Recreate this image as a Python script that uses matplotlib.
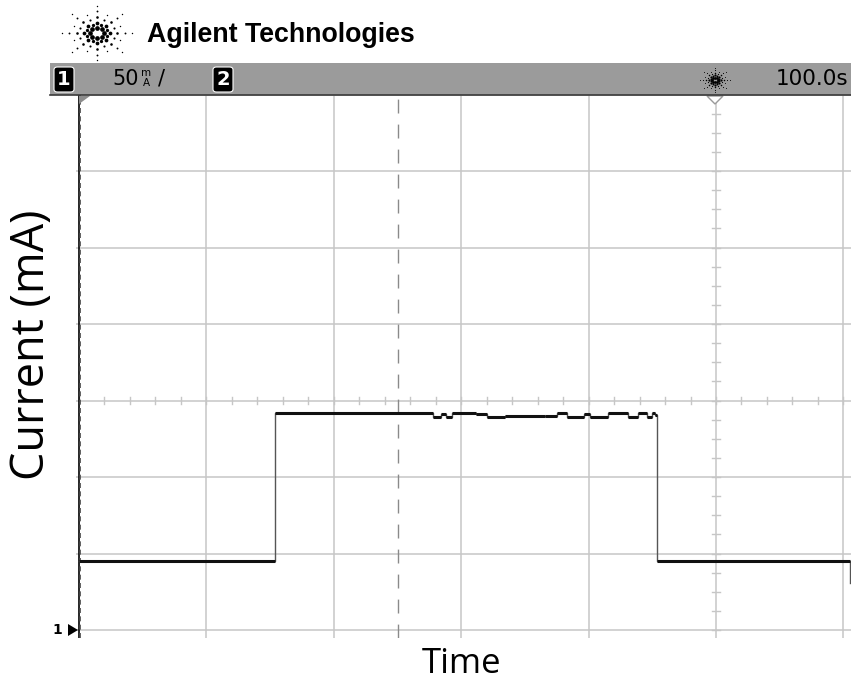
import numpy as np
import matplotlib
matplotlib.use("Agg")
import matplotlib.pyplot as plt
from matplotlib.patches import Rectangle, FancyBboxPatch, Polygon

# ---------------- data (time in s, current in mA; 100 s/div, 50 mA/div) -------------
times = [0, 154, 278, 284, 288, 293, 312, 320, 334, 366, 375, 383, 396, 401, 415,
         431, 439, 446, 450, 452, 454, 605]
currents = [45, 142, 139.5, 141, 139.5, 142, 141, 139.5, 140, 140, 142, 139.5, 141, 139.5,
            142, 139.5, 142, 139.5, 142, 140.5, 45, 31]
x_grid = [0, 100, 200, 300, 400, 500, 600]
y_grid = [0, 50, 100, 150, 200, 250, 300, 350]
cursor_t = 250
center_t = 500
center_i = 150

W, H = 851, 692
fig = plt.figure(figsize=(W / 100, H / 100), dpi=100)
fig.patch.set_facecolor("white")

def fx(x):
    return x / W

def fy(y):
    return 1 - y / H

# axes geometry (pixels)
X0, Y0 = 79, 630           # t=0, I=0
XP, YP = 1.274, 1.53       # px per s, px per mA
L, R, T, B = 76, 851, 95, 638
ax = fig.add_axes([fx(L), fy(B), (R - L) / W, (B - T) / H])
ax.set_xlim((L - X0) / XP, (R - X0) / XP)
ax.set_ylim((Y0 - B) / YP, (Y0 - T) / YP)
ax.set_facecolor("white")
for s in ax.spines.values():
    s.set_visible(False)
ax.set_xticks([])
ax.set_yticks([])

gcol = "#c6c6c6"
for xv in x_grid[1:]:
    ax.axvline(xv, color=gcol, lw=1.1, zorder=1)
for yv in y_grid:
    ax.axhline(yv, color=gcol, lw=1.1, zorder=1)

# minor ticks on centre lines
for t in np.arange(0, 620, 20):
    ax.plot([t, t], [center_i - 2.2, center_i + 2.2], color=gcol, lw=1.0, zorder=1)
for c in np.arange(0, 351, 12.5):
    ax.plot([center_t - 2.8, center_t + 2.8], [c, c], color=gcol, lw=1.0, zorder=1)

# cursor dashed line
ax.axvline(cursor_t, color="#8a8a8a", lw=1.0, dashes=(10, 8), zorder=2)

# left edge (ground) line
ax.axvline(0, color="black", lw=1.2, zorder=3)
ax.axvline(0.9, color="#444444", lw=1.2, dashes=(3, 2), zorder=3)

# trace: thin step + thick horizontal segments
ax.step(times, currents, where="post", color="#555555", lw=1.0, zorder=4)
ax.hlines(currents[:-1], times[:-1], times[1:], color="#111111", lw=2.2, zorder=5)

# ---------------- top bar ----------------
fig.patches.append(Rectangle((fx(50), fy(95)), (W - 50) / W, 32 / H,
                             transform=fig.transFigure, facecolor="#9b9b9b",
                             edgecolor="none", zorder=0))
fig.lines.append(plt.Line2D([fx(50), 1], [fy(94.5), fy(94.5)], transform=fig.transFigure,
                            color="#3a3a3a", lw=1.2))

def badge(x0, x1, label):
    fig.patches.append(FancyBboxPatch((fx(x0), fy(92)), (x1 - x0) / W, 25 / H,
                                      boxstyle="round,pad=0,rounding_size=0.004",
                                      transform=fig.transFigure, facecolor="black",
                                      edgecolor="white", lw=0.8))
    fig.text(fx((x0 + x1) / 2), fy(79.5), label, color="white", fontsize=14,
             fontweight="bold", ha="center", va="center", family="DejaVu Sans")

badge(54, 74, "1")
badge(213, 233, "2")
fig.text(fx(112), fy(79), "50", fontsize=15, ha="left", va="center", family="DejaVu Sans")
fig.text(fx(146), fy(73.5), "m", fontsize=7.5, ha="center", va="center", family="DejaVu Sans")
fig.text(fx(146), fy(83), "A", fontsize=7.5, ha="center", va="center", family="DejaVu Sans")
fig.text(fx(161), fy(79), "/", fontsize=15, ha="center", va="center", family="DejaVu Sans")
fig.text(fx(848), fy(79), "100.0s", fontsize=15.5, ha="right", va="center", family="DejaVu Sans")

# ---------------- Agilent spark logos ----------------
def spark(cx, cy, rx, ry, smax, color="black"):
    xs, ys, ss = [], [], []
    for k in range(8):
        a = np.pi / 4 * k
        for f, sz in zip([0.2, 0.38, 0.58, 0.8, 1.0], [1.0, 0.8, 0.55, 0.4, 0.3]):
            xs.append(cx + rx * f * np.cos(a))
            ys.append(cy - ry * f * np.sin(a))
            ss.append(smax * sz)
    for k in range(8):
        a = np.pi / 4 * k + np.pi / 8
        for f, sz in zip([0.32, 0.52, 0.72], [0.7, 0.45, 0.3]):
            xs.append(cx + rx * f * np.cos(a))
            ys.append(cy - ry * f * np.sin(a))
            ss.append(smax * sz)
    for x, y, s in zip(xs, ys, ss):
        fig.add_artist(plt.Line2D([fx(x)], [fy(y)], transform=fig.transFigure, marker="o",
                                  markersize=s, color=color, markeredgewidth=0, linestyle="none"))

spark(97, 33, 35, 27, 3.4)
spark(715, 80, 15, 12, 2.0)
fig.text(fx(147), fy(35), "Agilent Technologies", fontsize=19.3, fontweight="bold",
         ha="left", va="center", family="Liberation Sans")

# ---------------- markers ----------------
fig.patches.append(Polygon([(fx(79), fy(96)), (fx(90), fy(96)), (fx(79), fy(104))],
                           closed=True, transform=fig.transFigure, facecolor="#8c8c8c",
                           edgecolor="none"))
fig.patches.append(Polygon([(fx(707), fy(96)), (fx(723), fy(96)), (fx(715), fy(104))],
                           closed=True, transform=fig.transFigure, facecolor="white",
                           edgecolor="#9a9a9a", lw=1.0))
fig.patches.append(Polygon([(fx(68), fy(624)), (fx(78), fy(630)), (fx(68), fy(636))],
                           closed=True, transform=fig.transFigure, facecolor="black",
                           edgecolor="none"))
fig.text(fx(57), fy(630), "1", fontsize=10, fontweight="bold", ha="center", va="center",
         family="DejaVu Sans")

# ---------------- axis labels ----------------
fig.text(fx(32), fy(345), "Current (mA)", rotation=90, fontsize=32.5, ha="center", va="center",
         family="Open Sans")
fig.text(fx(462), fy(664), "Time", fontsize=25, ha="center", va="center", family="Open Sans")

fig.savefig("out.png", dpi=100, facecolor="white")
